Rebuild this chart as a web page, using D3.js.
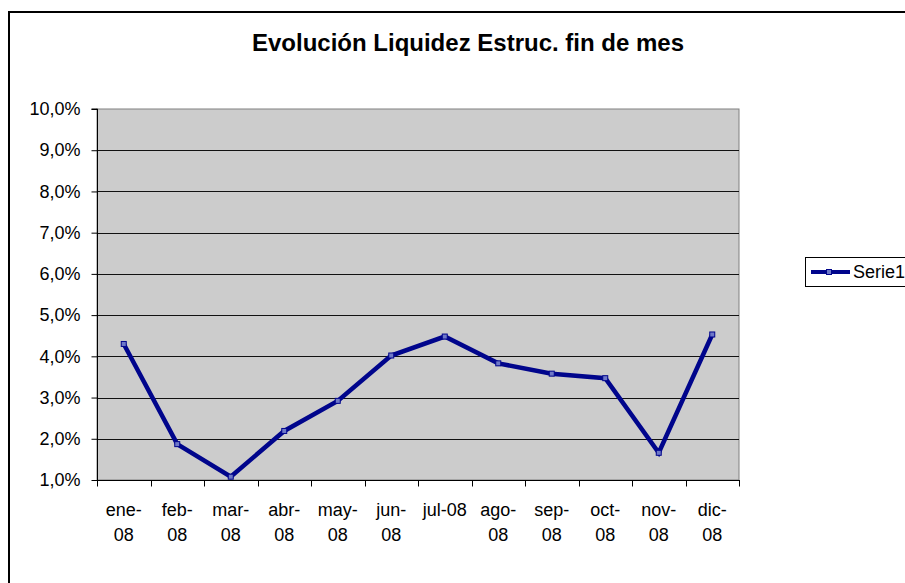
<!DOCTYPE html>
<html>
<head>
<meta charset="utf-8">
<script src="https://cdn.jsdelivr.net/npm/d3@7"></script>
<style>
  body { margin: 0; background: #fff; }
  svg { display: block; font-family: "Liberation Sans", Arial, sans-serif; }
</style>
</head>
<body>
<div id="chart"></div>
<script>
// meses y valores (tasa de liquidez, %)
const months = ['ene-08', 'feb-08', 'mar-08', 'abr-08', 'may-08', 'jun-08',
  'jul-08', 'ago-08', 'sep-08', 'oct-08', 'nov-08', 'dic-08'];
const serie1 = [4.30, 1.87, 1.08, 2.19, 2.92, 4.02, 4.48, 3.83, 3.58, 3.47, 1.66, 4.53];
const yTicks = [1, 2, 3, 4, 5, 6, 7, 8, 9, 10];
const seriesName = 'Serie1';
const title = 'Evolución Liquidez Estruc. fin de mes';

const width = 905, height = 583;
const plot = { left: 97, top: 109, right: 739, bottom: 480 };

const svg = d3.select('#chart').append('svg')
  .attr('width', width)
  .attr('height', height);

// marco exterior
svg.append('rect')
  .attr('x', 9).attr('y', 12)
  .attr('width', width + 20).attr('height', height + 20)
  .attr('fill', '#fff')
  .attr('stroke', '#000')
  .attr('stroke-width', 2);

svg.append('text')
  .attr('x', 468).attr('y', 51)
  .attr('text-anchor', 'middle')
  .attr('font-size', 24)
  .attr('font-weight', 'bold')
  .text(title);

const x = d3.scaleBand()
  .domain(months)
  .range([plot.left, plot.right]);

const y = d3.scaleLinear()
  .domain([1, 10])
  .range([plot.bottom, plot.top]);

// fondo del área de trazado
svg.append('rect')
  .attr('x', plot.left).attr('y', plot.top)
  .attr('width', plot.right - plot.left)
  .attr('height', plot.bottom - plot.top)
  .attr('fill', '#cccccc')
  .attr('stroke', '#808080')
  .attr('stroke-width', 1);

// líneas de división
svg.append('g')
  .selectAll('line')
  .data(yTicks.slice(1, -1))
  .join('line')
  .attr('x1', plot.left).attr('x2', plot.right)
  .attr('y1', d => Math.round(y(d)) + 0.5)
  .attr('y2', d => Math.round(y(d)) + 0.5)
  .attr('stroke', '#111')
  .attr('stroke-width', 1);

// eje Y
const yAxis = svg.append('g')
  .attr('transform', `translate(${plot.left + 0.5},0)`)
  .call(d3.axisLeft(y)
    .tickValues(yTicks)
    .tickSize(6)
    .tickPadding(11)
    .tickFormat(d => d3.format('.1f')(d).replace('.', ',') + '%'));
yAxis.selectAll('text')
  .attr('font-size', 18)
  .attr('fill', '#000')
  .attr('font-family', '"Liberation Sans", Arial, sans-serif');
yAxis.selectAll('line, path').attr('stroke', '#000');
yAxis.select('.domain').attr('d', `M-6,${plot.top}H0V${plot.bottom}`);

// eje X
const xAxis = svg.append('g')
  .attr('transform', `translate(0,${plot.bottom + 0.5})`);
xAxis.append('line')
  .attr('x1', plot.left).attr('x2', plot.right + 1)
  .attr('stroke', '#000');
xAxis.selectAll('line.tick')
  .data(d3.range(months.length + 1))
  .join('line')
  .attr('class', 'tick')
  .attr('x1', i => Math.round(plot.left + i * x.step()) + 0.5)
  .attr('x2', i => Math.round(plot.left + i * x.step()) + 0.5)
  .attr('y1', 0).attr('y2', 6)
  .attr('stroke', '#000');

const labels = xAxis.selectAll('text')
  .data(months)
  .join('text')
  .attr('font-size', 18)
  .attr('text-anchor', 'middle')
  .attr('transform', d => `translate(${x(d) + x.bandwidth() / 2},0)`);
labels.each(function (d) {
  const t = d3.select(this);
  if (d === 'jul-08') {
    t.append('tspan').attr('x', 0).attr('y', 35).text(d);
  } else {
    const parts = d.split('-');
    t.append('tspan').attr('x', 0).attr('y', 35).text(parts[0] + '-');
    t.append('tspan').attr('x', 0).attr('y', 60).text(parts[1]);
  }
});

// serie
const line = d3.line()
  .x((d, i) => x(months[i]) + x.bandwidth() / 2)
  .y(d => y(d));

svg.append('path')
  .datum(serie1)
  .attr('d', line)
  .attr('fill', 'none')
  .attr('stroke', '#00058c')
  .attr('stroke-width', 4.5)
  .attr('stroke-linejoin', 'miter');

svg.append('g')
  .selectAll('rect')
  .data(serie1)
  .join('rect')
  .attr('x', (d, i) => x(months[i]) + x.bandwidth() / 2 - 2.5)
  .attr('y', d => y(d) - 2.5)
  .attr('width', 5).attr('height', 5)
  .attr('fill', '#6e78c8')
  .attr('stroke', '#00058c')
  .attr('stroke-width', 1);

// leyenda
const legend = svg.append('g');
legend.append('rect')
  .attr('x', 805.5).attr('y', 257.5)
  .attr('width', 120).attr('height', 29)
  .attr('fill', '#fff')
  .attr('stroke', '#000');
legend.append('line')
  .attr('x1', 811).attr('x2', 850)
  .attr('y1', 272).attr('y2', 272)
  .attr('stroke', '#00058c')
  .attr('stroke-width', 4);
legend.append('rect')
  .attr('x', 826.5).attr('y', 269.5)
  .attr('width', 5).attr('height', 5)
  .attr('fill', '#6e78c8')
  .attr('stroke', '#00058c');
legend.append('text')
  .attr('x', 853).attr('y', 278)
  .attr('font-size', 18)
  .text(seriesName);
</script>
</body>
</html>
